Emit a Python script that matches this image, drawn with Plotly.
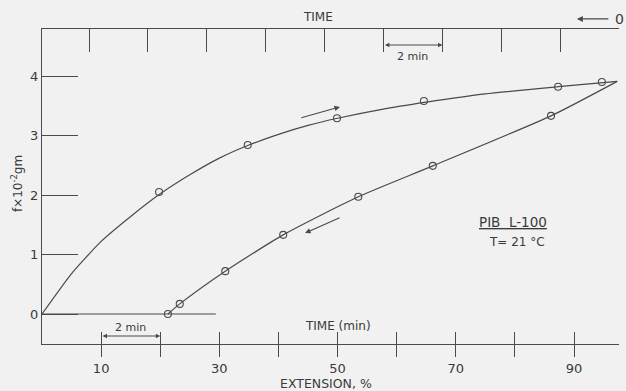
import plotly.graph_objects as go

# ---------------- data ----------------
# extension (loading) branch: measured points
ext_up_x = [19.8, 34.8, 49.9, 64.6, 87.3, 94.7]
ext_up_y = [2.05, 2.84, 3.29, 3.58, 3.82, 3.90]
# drawn smooth curve of the loading branch
curve_up_x = [0, 5, 10, 15, 20, 25, 30, 35, 40, 45, 50, 57.5, 65, 75, 87.3, 97.3]
curve_up_y = [0, 0.68, 1.22, 1.64, 2.02, 2.34, 2.62, 2.84, 3.02, 3.17, 3.29, 3.44, 3.56, 3.70, 3.82, 3.91]

# retraction (unloading) branch: measured points
ret_x = [86.1, 66.1, 53.5, 40.8, 31.0, 23.3, 21.3]
ret_y = [3.33, 2.49, 1.97, 1.33, 0.72, 0.17, 0.0]
curve_dn_x = [97.3, 86.1, 66.1, 53.5, 40.8, 31.0, 23.3, 21.3]
curve_dn_y = [3.91, 3.33, 2.49, 1.97, 1.33, 0.72, 0.17, 0.0]

# zero baseline
base_x = [0, 29.4]
base_y = [0, 0]

ext_ticks = [10, 20, 30, 40, 50, 60, 70, 80, 90]
ext_labels = ["10", "", "30", "", "50", "", "70", "", "90"]
f_ticks = [0, 1, 2, 3, 4]
f_labels = ["0", "1", "2", "3", "4"]
time_ticks = [0, 2, 4, 6, 8, 10, 12, 14, 16, 18]

LC = "#4a4a4a"
TC = "#3a3a3a"
BG = "#f1f1f1"
FONT = "DejaVu Sans"

fig = go.Figure()

fig.add_trace(go.Scatter(x=base_x, y=base_y, mode="lines",
                         line=dict(color=LC, width=1.2), hoverinfo="skip"))
fig.add_trace(go.Scatter(x=curve_up_x, y=curve_up_y, mode="lines",
                         line=dict(color=LC, width=1.2, shape="spline", smoothing=0.5),
                         hoverinfo="skip"))
fig.add_trace(go.Scatter(x=curve_dn_x, y=curve_dn_y, mode="lines",
                         line=dict(color=LC, width=1.2, shape="spline", smoothing=0.6),
                         hoverinfo="skip"))
fig.add_trace(go.Scatter(x=ext_up_x, y=ext_up_y, mode="markers",
                         marker=dict(symbol="circle-open", size=7, color=LC,
                                     line=dict(width=1.1, color=LC))))
fig.add_trace(go.Scatter(x=ret_x, y=ret_y, mode="markers",
                         marker=dict(symbol="circle-open", size=7, color=LC,
                                     line=dict(width=1.1, color=LC))))
# dummy traces so the extra axes render
fig.add_trace(go.Scatter(x=[None], y=[None], xaxis="x2", yaxis="y", hoverinfo="skip"))
fig.add_trace(go.Scatter(x=[None], y=[None], xaxis="x3", yaxis="y", hoverinfo="skip"))

X_RANGE = [0, 97.6]
fig.update_layout(
    width=626, height=391,
    margin=dict(l=42, r=7, t=29, b=47),
    paper_bgcolor=BG, plot_bgcolor=BG,
    showlegend=False,
    font=dict(family=FONT, color=TC, size=12),
    xaxis=dict(range=X_RANGE, showline=True, linecolor=LC, linewidth=1.2,
               ticks="outside", ticklen=12, tickwidth=1.2, tickcolor=LC,
               tickvals=ext_ticks, ticktext=ext_labels,
               tickfont=dict(size=13, color=TC),
               showgrid=False, zeroline=False, anchor="y"),
    xaxis3=dict(range=X_RANGE, overlaying="x", anchor="y", side="bottom",
                ticks="inside", ticklen=12, tickwidth=1.2, tickcolor=LC,
                tickvals=ext_ticks, showticklabels=False,
                showline=False, showgrid=False, zeroline=False),
    xaxis2=dict(range=[19.6, 0], overlaying="x", anchor="y", side="top",
                ticks="inside", ticklen=23, tickwidth=1.2, tickcolor=LC,
                tickvals=time_ticks, showticklabels=False,
                showline=True, linecolor=LC, linewidth=1.2,
                showgrid=False, zeroline=False),
    yaxis=dict(range=[-0.504, 4.79], showline=True, linecolor=LC, linewidth=1.2,
               ticks="inside", ticklen=36, tickwidth=1.2, tickcolor=LC,
               tickvals=f_ticks, ticktext=f_labels,
               tickfont=dict(size=13, color=TC),
               showgrid=False, zeroline=False),
)

ann = []
# axis titles
ann.append(dict(text="EXTENSION, %", xref="paper", yref="paper", x=0.492, y=-0.124,
                showarrow=False, font=dict(size=12.5), xanchor="center", yanchor="middle"))
ann.append(dict(text="f×10<sup>-2</sup>gm", xref="paper", yref="paper", x=-0.042, y=0.51,
                textangle=-90, showarrow=False, font=dict(size=12),
                xanchor="center", yanchor="middle"))
# time labels
ann.append(dict(text="TIME (min)", xref="x", yref="y", x=50.0, y=-0.2,
                showarrow=False, font=dict(size=12)))
ann.append(dict(text="TIME", xref="paper", yref="paper", x=(318 - 42) / 577, y=1.038,
                showarrow=False, font=dict(size=12), yanchor="middle"))
ann.append(dict(text="0", xref="x2", yref="paper", x=0.0, y=1.032,
                showarrow=False, font=dict(size=14), yanchor="middle"))
ann.append(dict(text="", xref="x2", yref="paper", x=1.43, y=1.032,
                ax=33, ay=0,
                showarrow=True, arrowhead=2, arrowsize=1, arrowwidth=1.2, arrowcolor=LC))
# 2 min brackets
ann.append(dict(text="", xref="x", yref="y", x=20, y=-0.37, axref="x", ayref="y",
                ax=10, ay=-0.37, showarrow=True, arrowhead=2, arrowside="end+start",
                arrowsize=0.8, arrowwidth=1.1, arrowcolor=LC))
ann.append(dict(text="2 min", xref="x", yref="y", x=15, y=-0.22, showarrow=False,
                font=dict(size=11)))
ann.append(dict(text="", xref="x2", yref="y", x=6, y=4.52, axref="x2", ayref="y",
                ax=8, ay=4.52, showarrow=True, arrowhead=2, arrowside="end+start",
                arrowsize=0.8, arrowwidth=1.1, arrowcolor=LC))
ann.append(dict(text="2 min", xref="x2", yref="y", x=7, y=4.33, showarrow=False,
                font=dict(size=11)))
# direction arrows
ann.append(dict(text="", xref="x", yref="y", x=50.4, y=3.48, axref="x", ayref="y",
                ax=43.6, ay=3.29, showarrow=True, arrowhead=2, arrowsize=1,
                arrowwidth=1.1, arrowcolor=LC))
ann.append(dict(text="", xref="x", yref="y", x=44.5, y=1.36, axref="x", ayref="y",
                ax=50.6, ay=1.63, showarrow=True, arrowhead=2, arrowsize=1,
                arrowwidth=1.1, arrowcolor=LC))
# sample label
ann.append(dict(text="<u>PIB  L-100</u>", xref="x", yref="y", x=79.7, y=1.55,
                showarrow=False, font=dict(size=13.5)))
ann.append(dict(text="T= 21 °C", xref="x", yref="y", x=80.4, y=1.21,
                showarrow=False, font=dict(size=12)))

fig.update_layout(annotations=ann)
fig.write_html("out.html")
